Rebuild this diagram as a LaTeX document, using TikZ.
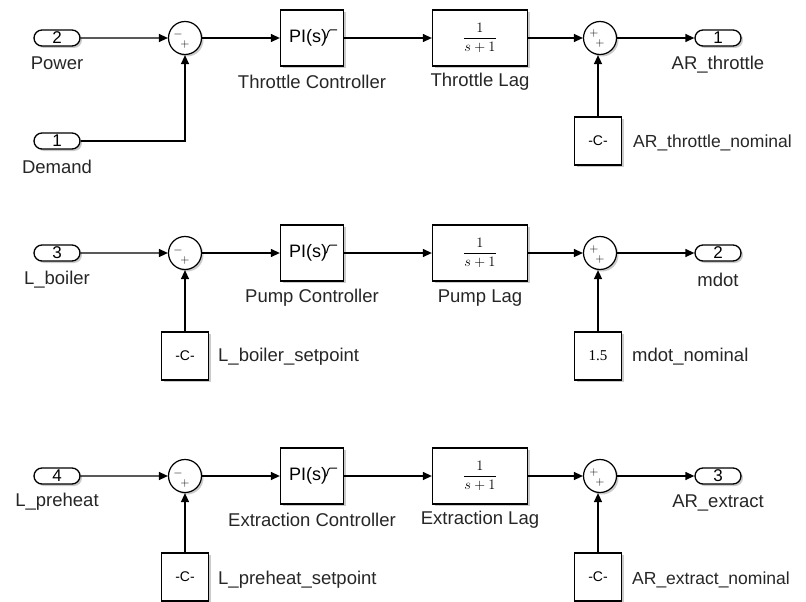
\documentclass[tikz,border=0pt]{standalone}
\usepackage{fontspec}
\setmainfont{Liberation Sans}
\newfontfamily\serifnum{Liberation Serif}
\usetikzlibrary{shapes.misc,arrows.meta,shadows,calc}
\tikzset{
  sh/.style={drop shadow={shadow xshift=2pt,shadow yshift=-2pt,fill=black!45,opacity=0.45}},
  port/.style={rounded rectangle,draw,line width=1.3pt,minimum width=46pt,minimum height=16pt,inner sep=0pt,fill=white,sh,font=\fontsize{17}{17}\selectfont},
  sumc/.style={circle,draw,line width=1.2pt,minimum size=33pt,inner sep=0pt,fill=white,sh},
  piblk/.style={rectangle,draw,line width=1.3pt,minimum width=63pt,minimum height=56pt,inner sep=0pt,fill=white,sh},
  lagblk/.style={rectangle,draw,line width=1.3pt,minimum width=95pt,minimum height=56pt,inner sep=0pt,fill=white,sh},
  cblk/.style={rectangle,draw,line width=1.3pt,minimum width=47pt,minimum height=48pt,inner sep=0pt,fill=white,sh},
  lbl/.style={inner sep=0pt,font=\fontsize{18.5}{19}\selectfont,text=black!85},
  nlbl/.style={inner sep=0pt,text=black!85,anchor=west,font=\fontsize{17.5}{18}\selectfont},
  sgn/.style={inner sep=0pt,font=\fontsize{12.5}{12.5}\selectfont},
  wire/.style={line width=1.3pt,-{Triangle[length=9pt,width=8pt]}},
  pitext/.style={inner sep=0pt,font=\fontsize{18}{18}\selectfont},
  frac/.style={inner sep=0pt,font=\serifnum\fontsize{15.5}{15.5}\selectfont},
  ctext/.style={inner sep=0pt,font=\fontsize{14}{14}\selectfont},
}
\newcommand{\pistep}[1]{%
  \draw[line width=1pt] ($(#1.center)+(13,1)$) .. controls ($(#1.center)+(16,0)$) and ($(#1.center)+(15,-7)$) .. ($(#1.center)+(18,-8)$) -- ($(#1.center)+(25,-8)$);}
\newcommand{\lagtext}{$\displaystyle\frac{1}{s+1}$}
\begin{document}
\begin{tikzpicture}[x=1pt,y=-1pt]
\useasboundingbox (0,0) rectangle (806,602);
% ---------- Row 1 ----------
\node[port] (inA) at (57,38) {2};
\node[lbl] (inAl) at (57,63) {Power};
\node[port] (inB) at (57,141) {1};
\node[lbl] (inBl) at (57,167) {Demand};
\node[sumc] (sA) at (185,38) {};
\node[sgn] at (178,35) {$-$};
\node[sgn] at (185,45) {$+$};
\node[piblk] (piA) at (312,38) {};
\node[pitext] at ($(piA.center)+(-4,0)$) {PI(s)};
\pistep{piA}
\node[lbl] (piAl) at (312,82) {Throttle Controller};
\node[lagblk] (lagA) at (480,38) {};
\node[frac] at (lagA.center) {\lagtext};
\node[lbl] (lagAl) at (480,82) {Throttle Lag};
\node[sumc] (tA) at (600,38) {};
\node[sgn] at (594,34) {$+$};
\node[sgn] at (600,44) {$+$};
\node[port] (outA) at (718,38) {1};
\node[lbl] (outAl) at (718,65) {AR\_throttle};
\node[cblk] (cA) at (598,141) {};
\node[ctext] at (cA.center) {-C-};
\node[nlbl] (cAl) at (633,143) {AR\_throttle\_nominal};
\draw[wire] (inA) -- (sA);
\draw[wire] (inB.east) -| (sA.south);
\draw[wire] (sA) -- (piA);
\draw[wire] (piA) -- (lagA);
\draw[wire] (lagA) -- (tA);
\draw[wire] (tA) -- (outA);
\draw[wire] (cA.north) -- (cA.north |- tA.south);
% ---------- Row 2 ----------
\node[port] (inC) at (57,253) {3};
\node[lbl] (inCl) at (57,280) {L\_boiler};
\node[sumc] (sB) at (185,253) {};
\node[sgn] at (178,250) {$-$};
\node[sgn] at (185,260) {$+$};
\node[piblk] (piB) at (312,253) {};
\node[pitext] at ($(piB.center)+(-4,0)$) {PI(s)};
\pistep{piB}
\node[lbl] (piBl) at (312,298) {Pump Controller};
\node[lagblk] (lagB) at (480,253) {};
\node[frac] at (lagB.center) {\lagtext};
\node[lbl] (lagBl) at (480,298) {Pump Lag};
\node[sumc] (tB) at (600,253) {};
\node[sgn] at (594,249) {$+$};
\node[sgn] at (600,259) {$+$};
\node[port] (outB) at (718,253) {2};
\node[lbl] (outBl) at (718,280) {mdot};
\node[cblk] (cB) at (185,356) {};
\node[ctext] at (cB.center) {-C-};
\node[lbl,anchor=west] (cBl) at (218,357) {L\_boiler\_setpoint};
\node[cblk] (cC) at (598,356) {};
\node[frac,font=\serifnum\fontsize{15}{15}\selectfont] at (cC.center) {1.5};
\node[lbl,anchor=west] (cCl) at (632,357) {mdot\_nominal};
\draw[wire] (inC) -- (sB);
\draw[wire] (sB) -- (piB);
\draw[wire] (piB) -- (lagB);
\draw[wire] (lagB) -- (tB);
\draw[wire] (tB) -- (outB);
\draw[wire] (cB.north) -- (cB.north |- sB.south);
\draw[wire] (cC.north) -- (cC.north |- tB.south);
% ---------- Row 3 ----------
\node[port] (inD) at (57,476) {4};
\node[lbl] (inDl) at (57,502) {L\_preheat};
\node[sumc] (sC) at (185,476) {};
\node[sgn] at (178,473) {$-$};
\node[sgn] at (185,483) {$+$};
\node[piblk] (piC) at (312,476) {};
\node[pitext] at ($(piC.center)+(-4,0)$) {PI(s)};
\pistep{piC}
\node[lbl] (piCl) at (312,520) {Extraction Controller};
\node[lagblk] (lagC) at (480,476) {};
\node[frac] at (lagC.center) {\lagtext};
\node[lbl] (lagCl) at (480,520) {Extraction Lag};
\node[sumc] (tC) at (600,476) {};
\node[sgn] at (594,472) {$+$};
\node[sgn] at (600,482) {$+$};
\node[port] (outC) at (718,476) {3};
\node[lbl] (outCl) at (718,503) {AR\_extract};
\node[cblk] (cD) at (185,577) {};
\node[ctext] at (cD.center) {-C-};
\node[lbl,anchor=west] (cDl) at (218,580) {L\_preheat\_setpoint};
\node[cblk] (cE) at (598,577) {};
\node[ctext] at (cE.center) {-C-};
\node[nlbl] (cEl) at (632,580) {AR\_extract\_nominal};
\draw[wire] (inD) -- (sC);
\draw[wire] (sC) -- (piC);
\draw[wire] (piC) -- (lagC);
\draw[wire] (lagC) -- (tC);
\draw[wire] (tC) -- (outC);
\draw[wire] (cD.north) -- (cD.north |- sC.south);
\draw[wire] (cE.north) -- (cE.north |- tC.south);
\end{tikzpicture}
\end{document}
